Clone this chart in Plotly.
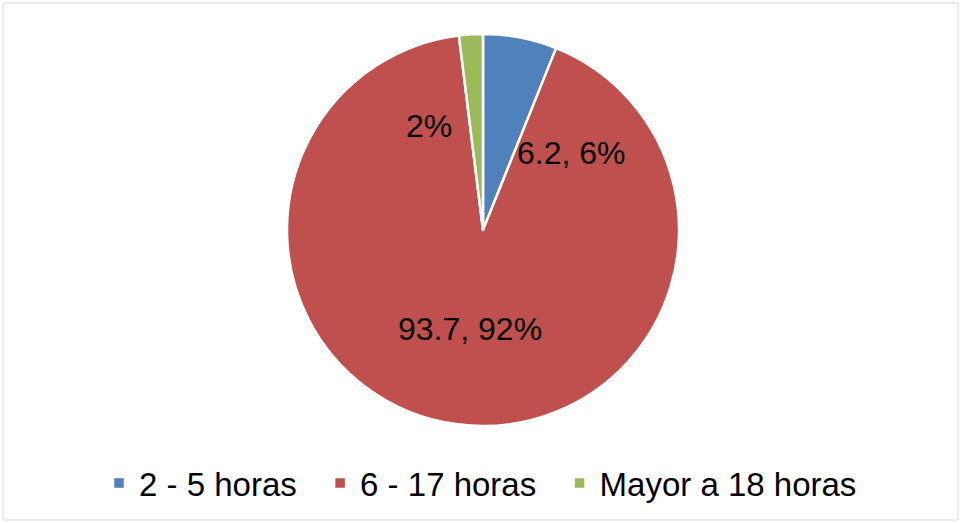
import math
import plotly.graph_objects as go

# data
labels = ["2 - 5 horas", "6 - 17 horas", "Mayor a 18 horas"]
values = [6.2, 93.7, 2.0]
colors = ["#4F81BD", "#C0504D", "#9BBB59"]
label_texts = ["6.2, 6%", "93.7, 92%", "2%"]

W, H = 961, 523
cx, cy, R = 483, 230, 196

# pad legend entries a bit (excel legend spacing is wider than plotly's)
legend_names = [l + "\u00a0\u00a0" for l in labels[:-1]] + labels[-1:]

fig = go.Figure()

fig.add_trace(
    go.Pie(
        labels=legend_names,
        values=values,
        sort=False,
        direction="clockwise",
        rotation=0,
        marker=dict(colors=colors, line=dict(color="white", width=2.5)),
        textinfo="none",
        hoverinfo="label+value+percent",
        domain=dict(x=[(cx - R) / W, (cx + R) / W], y=[(H - cy - R) / H, (H - cy + R) / H]),
    )
)

# label placement (excel "best fit" style nudges, in degrees / fraction of radius)
nudge = [(38, 0.60), (0, 0.51), (-24, 0.60)]
total = sum(values)
start = 0
for v, txt, (dang, rf) in zip(values, label_texts, nudge):
    mid = start + v / total * 360 / 2
    start += v / total * 360
    a = math.radians(mid + dang)
    px = cx + R * rf * math.sin(a)
    py = cy - R * rf * math.cos(a)
    fig.add_annotation(
        x=px / W, y=(H - py) / H, xref="paper", yref="paper",
        xanchor="center", yanchor="middle",
        text=txt, showarrow=False,
        font=dict(size=32, color="black", family="Arial, Liberation Sans"),
    )

fig.add_shape(
    type="rect", xref="paper", yref="paper",
    x0=3 / W, x1=958 / W, y0=3 / H, y1=520 / H,
    line=dict(color="#D9D9D9", width=1),
)

fig.update_layout(
    width=W,
    height=H,
    margin=dict(l=0, r=0, t=0, b=0),
    paper_bgcolor="white",
    plot_bgcolor="white",
    font=dict(family="Arial, Liberation Sans", color="black", size=32),
    showlegend=True,
    legend=dict(
        orientation="h",
        x=0.5,
        xanchor="center",
        y=(H - 483) / H,
        yanchor="middle",
        font=dict(size=33),
        itemwidth=30,
    ),
)

fig.write_html(
    "out.html",
    config={"displayModeBar": False},
    post_script="document.body.style.margin='0';",
)
